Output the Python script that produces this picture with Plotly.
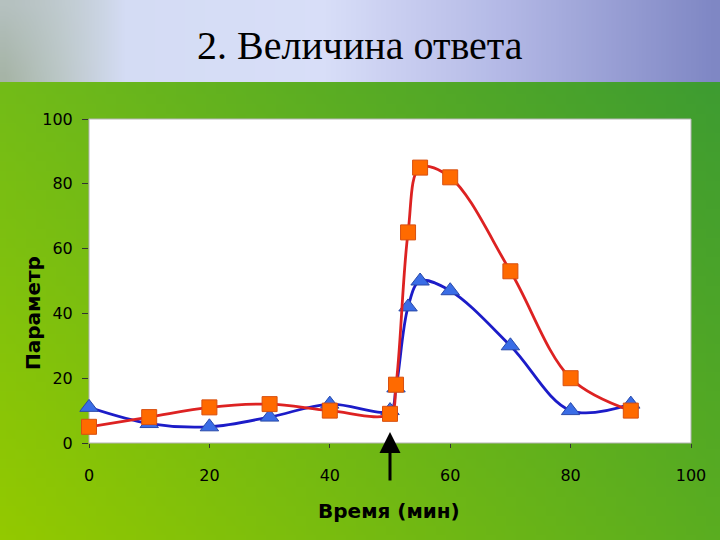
import base64, struct, zlib
import plotly.graph_objects as go

# ---- data ----
time_sq = [0, 10, 20, 30, 40, 50, 51, 53, 55, 60, 70, 80, 90]
param_sq = [5, 8, 11, 12, 10, 9, 18, 65, 85, 82, 53, 20, 10]
time_tri = [0, 10, 20, 30, 40, 50, 51, 53, 55, 60, 70, 80, 90]
param_tri = [11, 6, 5, 8, 12, 10, 17, 42, 50, 47, 30, 10, 12]
x_ticks = [0, 20, 40, 60, 80, 100]
y_ticks = [0, 20, 40, 60, 80, 100]
arrow_time = 50
title_text = "2. Величина ответа"
x_title = "Время (мин)"
y_title = "Параметр"

W, H = 720, 540
L, R, T, B = 89, 691, 119, 443  # plot area in pixels


def hex2rgb(h):
    h = h.lstrip('#')
    return tuple(int(h[i:i + 2], 16) for i in (0, 2, 4))


def lerp(a, b, t):
    return tuple(a[i] + (b[i] - a[i]) * t for i in range(3))


def make_png(w, h, fn):
    raw = b''
    for j in range(h):
        row = bytearray([0])
        for i in range(w):
            c = fn(i / (w - 1), j / (h - 1))
            row += bytes(max(0, min(255, int(round(v)))) for v in c)
        raw += bytes(row)

    def chunk(tag, data):
        return struct.pack('>I', len(data)) + tag + data + struct.pack('>I', zlib.crc32(tag + data) & 0xffffffff)
    png = b'\x89PNG\r\n\x1a\n' + chunk(b'IHDR', struct.pack('>IIBBBBB', w, h, 8, 2, 0, 0, 0))
    png += chunk(b'IDAT', zlib.compress(raw, 9)) + chunk(b'IEND', b'')
    return 'data:image/png;base64,' + base64.b64encode(png).decode()


# header gradient (horizontal stops)
hdr_stops = [(0.0, hex2rgb('#a6b4a6')), (0.08, hex2rgb('#bcc8c8')), (0.17, hex2rgb('#d4dcf4')),
             (0.45, hex2rgb('#d8def8')), (0.7, hex2rgb('#b4b9e6')), (1.0, hex2rgb('#7f87c4'))]


def hdr_fn(u, v):
    for k in range(len(hdr_stops) - 1):
        a, ca = hdr_stops[k]
        b, cb = hdr_stops[k + 1]
        if u <= b:
            c = lerp(ca, cb, (u - a) / (b - a))
            break
    if u < 0.17:
        c = lerp(c, hex2rgb('#d0d8ee'), (1 - v) * 0.35 * (1 - u / 0.17))
    return c


TL, TR, BL, BR = hex2rgb('#72bb18'), hex2rgb('#3e9c31'), hex2rgb('#93c900'), hex2rgb('#5aad20')


def body_fn(u, v):
    top = lerp(TL, TR, u)
    bot = lerp(BL, BR, u)
    return lerp(top, bot, v)


hdr_img = make_png(72, 8, hdr_fn)
body_img = make_png(72, 48, body_fn)

pw, ph = R - L, B - T


def px2paper_x(px):
    return (px - L) / pw


def py2paper_y(py):
    return (B - py) / ph


fig = go.Figure()

fig.add_trace(go.Scatter(
    x=time_tri, y=param_tri, mode='lines+markers',
    line=dict(color='#1c1cc8', width=2.8, shape='spline', smoothing=1),
    marker=dict(symbol='triangle-up', size=16, color='#3a6de6', line=dict(color='#2a4aa8', width=1)),
    cliponaxis=False, showlegend=False))

fig.add_trace(go.Scatter(
    x=time_sq, y=param_sq, mode='lines+markers',
    line=dict(color='#dd2222', width=2.8, shape='spline', smoothing=1),
    marker=dict(symbol='square', size=15, color='#ff6a00', line=dict(color='#d85010', width=1)),
    cliponaxis=False, showlegend=False))

tick_font = dict(family='DejaVu Sans, Verdana, sans-serif', size=16, color='black')

fig.update_layout(
    width=W, height=H,
    margin=dict(l=L, r=W - R, t=T, b=H - B, pad=0),
    paper_bgcolor='#6cb520', plot_bgcolor='white',
    showlegend=False,
    font=dict(family='DejaVu Sans, Verdana, sans-serif', color='black', size=16),
    xaxis=dict(range=[0, 100], tickvals=x_ticks, ticks='outside', ticklen=4, tickcolor='#333333',
               showgrid=False, zeroline=False, showline=False, ticklabelstandoff=14,
               tickfont=tick_font),
    yaxis=dict(range=[0, 100], tickvals=y_ticks, ticks='outside', ticklen=6, tickcolor='#333333',
               showgrid=False, zeroline=False, showline=False, ticklabelstandoff=6,
               tickfont=tick_font),
    images=[
        dict(source=body_img, xref='paper', yref='paper', x=px2paper_x(0), y=py2paper_y(80),
             sizex=W / pw, sizey=(H - 80) / ph, sizing='stretch', layer='below',
             xanchor='left', yanchor='top'),
        dict(source=hdr_img, xref='paper', yref='paper', x=px2paper_x(0), y=py2paper_y(0),
             sizex=W / pw, sizey=82 / ph, sizing='stretch', layer='below',
             xanchor='left', yanchor='top'),
    ],
    shapes=[dict(type='rect', xref='paper', yref='paper', x0=0, x1=1, y0=0, y1=1,
                 fillcolor='white', line=dict(width=1, color='#b4b4b4'), layer='below')],
    annotations=[
        dict(text=title_text, xref='paper', yref='paper', x=px2paper_x(360), y=py2paper_y(45),
             showarrow=False, xanchor='center', yanchor='middle',
             font=dict(family='Liberation Serif, Times New Roman, serif', size=40, color='black')),
        dict(text='<b>' + x_title + '</b>', xref='paper', yref='paper', x=px2paper_x(389), y=py2paper_y(511),
             showarrow=False, xanchor='center', yanchor='middle',
             font=dict(family='DejaVu Sans, Verdana, sans-serif', size=20, color='black')),
        dict(text='<b>' + y_title + '</b>', xref='paper', yref='paper', x=px2paper_x(33), y=py2paper_y(313),
             showarrow=False, xanchor='center', yanchor='middle', textangle=-90,
             font=dict(family='DejaVu Sans, Verdana, sans-serif', size=20, color='black')),
        dict(text='', x=arrow_time, y=(B - 432) / ph * 100, xref='x', yref='y',
             showarrow=True, ax=0, ay=50, arrowhead=2, arrowsize=1.4, arrowwidth=3, arrowcolor='black'),
    ],
)

fig.write_html('out.html')
